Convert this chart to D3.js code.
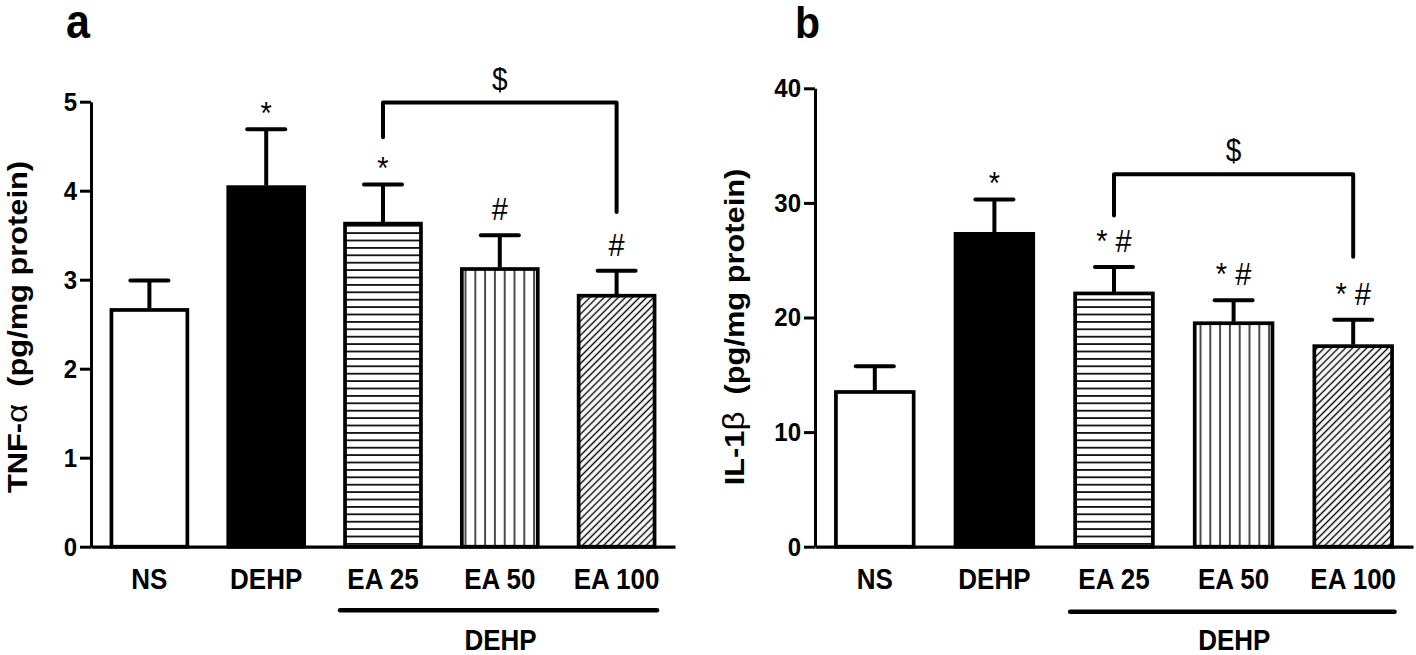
<!DOCTYPE html>
<html><head><meta charset="utf-8">
<script src="https://cdn.jsdelivr.net/npm/d3@7"></script>
<style>html,body{margin:0;padding:0;background:#fff;} svg{display:block;}</style>
</head><body>
<svg id="chart" width="1416" height="655"></svg>
<script>
// ---------------- data ----------------
const categories = ["NS", "DEHP", "EA 25", "EA 50", "EA 100"];

const tnfMean  = [2.66, 4.04, 3.63, 3.12, 2.82];
const tnfSem   = [0.33, 0.65, 0.44, 0.38, 0.28];
const tnfTicks = [0, 1, 2, 3, 4, 5];
const tnfMarks = ["", "*", "*", "#", "#"];
const tnfBracketLevels = [4.99, 4.60, 3.76];   // top, left end, right end

const il1bMean  = [13.5, 27.3, 22.1, 19.5, 17.5];
const il1bSem   = [2.25, 3.0, 2.3, 2.0, 2.3];
const il1bTicks = [0, 10, 20, 30, 40];
const il1bMarks = ["", "*", "* #", "* #", "* #"];
const il1bBracketLevels = [32.5, 28.9, 25.3];

const bracketCats  = ["EA 25", "EA 100"];
const bracketLabel = "$";
const groupCats  = ["EA 25", "EA 100"];
const groupLabel = "DEHP";

// ---------------- styles ----------------
const FONT = "'Liberation Sans', Arial, Helvetica, sans-serif";
const SY = 1.1;
const fills = ["#fff", "#000", "url(#hlines)", "url(#vlines)", "url(#diag)"];

const svg = d3.select("#chart");
svg.append("rect").attr("width", 1416).attr("height", 655).attr("fill", "#fff");
const defs = svg.append("defs");

const ph = defs.append("pattern").attr("id", "hlines").attr("patternUnits", "userSpaceOnUse")
  .attr("width", 8).attr("height", 7.4);
ph.append("rect").attr("width", 8).attr("height", 7.4).attr("fill", "#fff");
ph.append("line").attr("x1", 0).attr("x2", 8).attr("y1", 3.7).attr("y2", 3.7)
  .attr("stroke", "#000").attr("stroke-width", 1.7);

const pv = defs.append("pattern").attr("id", "vlines").attr("patternUnits", "userSpaceOnUse")
  .attr("width", 9.8).attr("height", 8);
pv.append("rect").attr("width", 9.8).attr("height", 8).attr("fill", "#fff");
pv.append("line").attr("x1", 4.9).attr("x2", 4.9).attr("y1", 0).attr("y2", 8)
  .attr("stroke", "#000").attr("stroke-width", 1.4);

const pd = defs.append("pattern").attr("id", "diag").attr("patternUnits", "userSpaceOnUse")
  .attr("width", 5).attr("height", 5).attr("patternTransform", "rotate(45)");
pd.append("rect").attr("width", 5).attr("height", 5).attr("fill", "#fff");
pd.append("line").attr("x1", 2.5).attr("x2", 2.5).attr("y1", 0).attr("y2", 5)
  .attr("stroke", "#000").attr("stroke-width", 1.4);

function txt(g, x, y, s, size, weight, anchor) {
  return g.append("text")
    .attr("transform", `translate(${x},${y}) scale(1,${SY})`)
    .attr("text-anchor", anchor || "middle")
    .attr("font-family", FONT).attr("font-size", size)
    .attr("font-weight", weight || "normal").attr("fill", "#000")
    .text(s);
}

function drawPanel(o) {
  const g = svg.append("g");
  const x = d3.scaleBand().domain(categories).range([o.x0, o.x1])
    .paddingInner(0.35).paddingOuter(0.175);
  const y = d3.scaleLinear().domain([0, o.ticks[o.ticks.length - 1]]).range([546.7, o.yTop]);
  const bw = x.bandwidth();
  const cx = c => x(c) + bw / 2;

  // bars
  g.selectAll("rect.bar").data(categories).join("rect")
    .attr("class", "bar")
    .attr("x", c => x(c)).attr("width", bw)
    .attr("y", (c, i) => y(o.mean[i]))
    .attr("height", (c, i) => y(0) - y(o.mean[i]))
    .attr("fill", (c, i) => fills[i])
    .attr("stroke", "#000").attr("stroke-width", 3.7);

  // error bars (upper only)
  g.selectAll("line.err").data(categories).join("line")
    .attr("class", "err")
    .attr("x1", c => cx(c)).attr("x2", c => cx(c))
    .attr("y1", (c, i) => y(o.mean[i]) - 1.5)
    .attr("y2", (c, i) => y(o.mean[i] + o.sem[i]))
    .attr("stroke", "#000").attr("stroke-width", 4);
  g.selectAll("line.cap").data(categories).join("line")
    .attr("class", "cap")
    .attr("x1", c => cx(c) - 19).attr("x2", c => cx(c) + 19)
    .attr("y1", (c, i) => y(o.mean[i] + o.sem[i]))
    .attr("y2", (c, i) => y(o.mean[i] + o.sem[i]))
    .attr("stroke", "#000").attr("stroke-width", 4).attr("stroke-linecap", "round");

  // significance marks
  categories.forEach((c, i) => {
    const m = o.marks[i];
    if (!m) return;
    const gap = m.includes("#") ? 15 : 5;
    txt(g, cx(c), y(o.mean[i] + o.sem[i]) - gap, m, 29, "normal");
  });

  // bracket
  const xl = cx(bracketCats[0]), xr = cx(bracketCats[1]);
  const [bt, bl, br] = o.bracket;
  g.append("path")
    .attr("d", `M${xl},${y(bl)}V${y(bt)}H${xr}V${y(br)}`)
    .attr("fill", "none").attr("stroke", "#000").attr("stroke-width", 4)
    .attr("stroke-linecap", "round").attr("stroke-linejoin", "round");
  txt(g, (xl + xr) / 2, y(bt) - 13, bracketLabel, 28, "normal");

  // y axis
  const ya = g.append("g").attr("transform", `translate(${o.x0},0)`)
    .call(d3.axisLeft(y).tickValues(o.ticks).tickSize(11).tickSizeOuter(0).tickPadding(3)
      .tickFormat(d3.format("d")));
  ya.select(".domain").attr("stroke-width", 3);
  ya.selectAll(".tick line").attr("stroke-width", 3);
  ya.selectAll(".tick text").attr("font-family", FONT).attr("font-size", 24)
    .attr("font-weight", "bold").attr("fill", "#000")
    .attr("transform", `scale(1,${SY})`);

  // x axis
  const xa = g.append("g").attr("transform", `translate(0,${y(0)})`)
    .call(d3.axisBottom(x).tickSize(0).tickSizeOuter(0).tickPadding(20));
  xa.select(".domain").attr("stroke-width", 3.3);
  xa.selectAll(".tick text").attr("font-family", FONT).attr("font-size", 26)
    .attr("font-weight", "bold").attr("fill", "#000")
    .attr("transform", `scale(1,${SY})`);

  // group underline + label
  const ux0 = x(groupCats[0]) - 5, ux1 = x(groupCats[1]) + bw + 2.5;
  g.append("line").attr("x1", ux0).attr("x2", ux1)
    .attr("y1", y(0) + o.ulOff).attr("y2", y(0) + o.ulOff)
    .attr("stroke", "#000").attr("stroke-width", 4.5).attr("stroke-linecap", "round");
  txt(g, (ux0 + ux1) / 2 + 2, y(0) + 103, groupLabel, 26, "bold");

  // y label
  const yl = g.append("text")
    .attr("transform", `translate(${o.ylX},327) rotate(-90) scale(${SY},1)`)
    .attr("text-anchor", "middle").attr("font-family", FONT).attr("font-size", 28)
    .attr("font-weight", "bold").attr("fill", "#000");
  yl.append("tspan").text(o.ylA);
  yl.append("tspan").attr("font-weight", "normal").attr("font-size", 30).text(o.ylGreek);
  yl.append("tspan").text("\u00a0 (pg/mg protein)");

  // panel letter
  txt(svg, o.letterX, o.letterY, o.letter, o.letterSize, "bold", "start");
}

drawPanel({
  x0: 91, x1: 675, yTop: 101.7, ticks: tnfTicks,
  mean: tnfMean, sem: tnfSem, marks: tnfMarks, bracket: tnfBracketLevels,
  ulOff: 63.5, ylX: 27, ylA: "TNF-", ylGreek: "\u03b1",
  letter: "a", letterX: 66, letterY: 38, letterSize: 43
});
drawPanel({
  x0: 815, x1: 1413, yTop: 88.3, ticks: il1bTicks,
  mean: il1bMean, sem: il1bSem, marks: il1bMarks, bracket: il1bBracketLevels,
  ulOff: 65, ylX: 744, ylA: "IL-1", ylGreek: "\u03b2",
  letter: "b", letterX: 795, letterY: 38, letterSize: 41
});
</script>
</body></html>
